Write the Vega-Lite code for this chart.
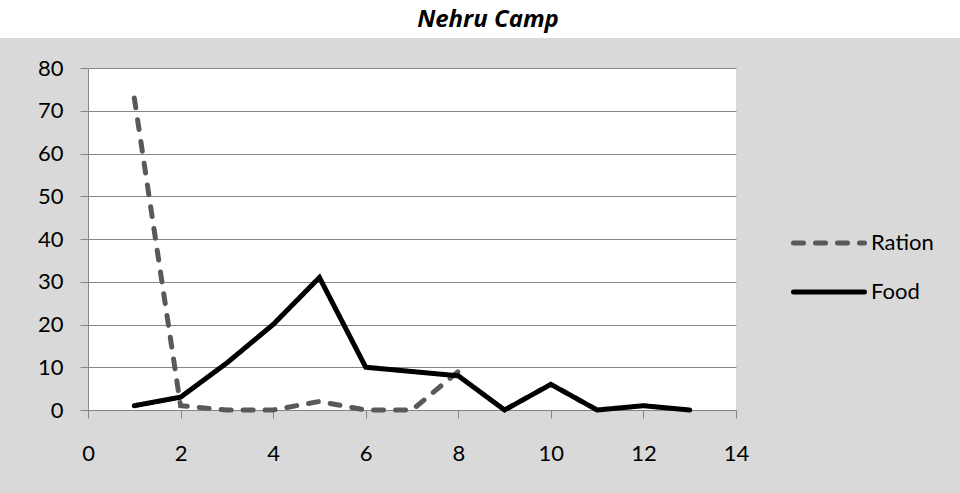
{
  "$schema": "https://vega.github.io/schema/vega-lite/v6.json",
  "width": 648,
  "height": 342,
  "autosize": {"type": "none"},
  "padding": {"left": 88, "top": 68, "right": 224, "bottom": 83},
  "background": "#d9d9d9",
  "config": {
    "font": "Lato",
    "view": {"stroke": null, "fill": "white"}
  },
  "title": {
    "text": "Nehru Camp",
    "font": "Open Sans",
    "fontSize": 24,
    "fontWeight": "bold",
    "fontStyle": "italic",
    "color": "black",
    "frame": "group",
    "anchor": "middle",
    "dx": 76,
    "offset": 0,
    "dy": 51,
    "baseline": "alphabetic",
    "zindex": 1
  },
  "datasets": {
    "series": [
      {"x": 1, "value": 73, "series": "Ration"},
      {"x": 2, "value": 1, "series": "Ration"},
      {"x": 3, "value": 0, "series": "Ration"},
      {"x": 4, "value": 0, "series": "Ration"},
      {"x": 5, "value": 2, "series": "Ration"},
      {"x": 6, "value": 0, "series": "Ration"},
      {"x": 7, "value": 0, "series": "Ration"},
      {"x": 8, "value": 9, "series": "Ration"},
      {"x": 1, "value": 1, "series": "Food"},
      {"x": 2, "value": 3, "series": "Food"},
      {"x": 3, "value": 11, "series": "Food"},
      {"x": 4, "value": 20, "series": "Food"},
      {"x": 5, "value": 31, "series": "Food"},
      {"x": 6, "value": 10, "series": "Food"},
      {"x": 7, "value": 9, "series": "Food"},
      {"x": 8, "value": 8, "series": "Food"},
      {"x": 9, "value": 0, "series": "Food"},
      {"x": 10, "value": 6, "series": "Food"},
      {"x": 11, "value": 0, "series": "Food"},
      {"x": 12, "value": 1, "series": "Food"},
      {"x": 13, "value": 0, "series": "Food"}
    ],
    "titleStrip": [{"x0": -5, "x1": 25, "y0": 87, "y1": 96}]
  },
  "layer": [
    {
      "data": {"name": "titleStrip"},
      "mark": {"type": "rect", "fill": "white", "clip": false},
      "encoding": {
        "x": {"field": "x0", "type": "quantitative", "title": null, "scale": {"domain": [0, 14], "nice": false, "zero": false}},
        "x2": {"field": "x1"},
        "y": {"field": "y0", "type": "quantitative", "title": null, "scale": {"domain": [0, 80], "nice": false}},
        "y2": {"field": "y1"}
      }
    },
    {
      "data": {"name": "series"},
      "mark": {"type": "line", "strokeWidth": 5, "strokeCap": "round"},
      "encoding": {
        "x": {
          "field": "x",
          "type": "quantitative",
          "scale": {"domain": [0, 14], "nice": false, "zero": false},
          "axis": {
            "title": null,
            "values": [0, 2, 4, 6, 8, 10, 12, 14],
            "grid": false,
            "domainColor": "#868686",
            "tickColor": "#868686",
            "tickSize": 8,
            "labelPadding": 25,
            "labelFlush": false,
            "labelFontSize": 22,
            "labelColor": "black",
            "labelFont": "Lato"
          }
        },
        "y": {
          "field": "value",
          "type": "quantitative",
          "scale": {"domain": [0, 80], "nice": false},
          "axis": {
            "title": null,
            "values": [0, 10, 20, 30, 40, 50, 60, 70, 80],
            "grid": true,
            "gridColor": "#868686",
            "domainColor": "#868686",
            "tickColor": "#868686",
            "tickSize": 8,
            "labelPadding": 17,
            "labelFlush": false,
            "labelFontSize": 22,
            "labelColor": "black",
            "labelFont": "Lato"
          }
        },
        "color": {
          "field": "series",
          "type": "nominal",
          "scale": {"domain": ["Ration", "Food"], "range": ["#595959", "#000000"]},
          "legend": {
            "title": null,
            "orient": "none",
            "legendX": 703,
            "legendY": 137,
            "padding": 0,
            "symbolType": "stroke",
            "symbolSize": 5041,
            "symbolStrokeWidth": 5,
            "labelFontSize": 22,
            "labelFont": "Lato",
            "labelColor": "black",
            "labelOffset": 4,
            "rowPadding": -1,
            "encode": {"symbols": {"update": {"strokeCap": {"value": "round"}}}}
          }
        },
        "strokeDash": {
          "field": "series",
          "type": "nominal",
          "scale": {"domain": ["Ration", "Food"], "range": [[10, 12], [1, 0]]},
          "legend": {
            "title": null,
            "orient": "none",
            "legendX": 703,
            "legendY": 137,
            "padding": 0,
            "symbolType": "stroke",
            "symbolSize": 5041,
            "symbolStrokeWidth": 5,
            "labelFontSize": 22,
            "labelFont": "Lato",
            "labelColor": "black",
            "labelOffset": 4,
            "rowPadding": -1,
            "encode": {"symbols": {"update": {"strokeCap": {"value": "round"}}}}
          }
        }
      }
    }
  ]
}
